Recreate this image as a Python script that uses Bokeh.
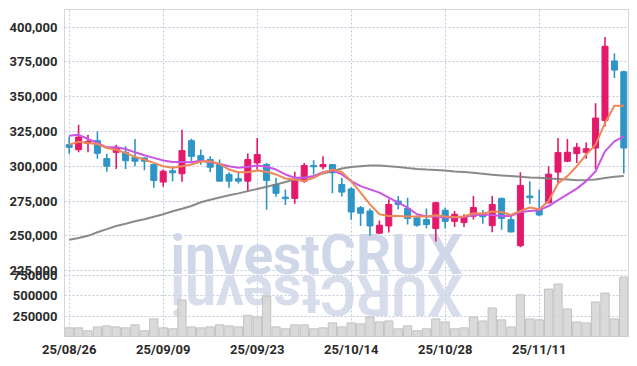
from math import pi
from bokeh.plotting import figure
from bokeh.models import (Range1d, FixedTicker, CustomJSTickFormatter, Label,
                          ColumnDataSource)
from bokeh.embed import file_html
from bokeh.resources import INLINE

# ---------------- data ----------------
xtick_pos = [0, 10, 20, 30, 40, 50]
xtick_labels = ["25/08/26", "25/09/09", "25/09/23", "25/10/14", "25/10/28", "25/11/11"]

open_ = [315500, 311900, 316400, 318400, 305500, 310000, 310000, 306400, 306000, 301200,
         288600, 296700, 294600, 318400, 307600, 304800, 301200, 294100, 291000, 289300,
         302400, 301200, 286900, 277800, 276900, 289300, 300500, 299600, 301200, 286900,
         283700, 270200, 267800, 251900, 257100, 275000, 269600, 262900, 261700, 255200,
         268400, 260400, 259500, 264100, 266000, 257300, 276900, 261700, 242900, 278600,
         269100, 273800, 295800, 303600, 309100, 310000, 313100, 332900, 375700, 367900]
close = [313600, 321000, 317900, 309300, 300000, 313600, 304000, 303600, 303600, 289800,
         296400, 295300, 311200, 307100, 303600, 299300, 289300, 289300, 289300, 304800,
         308400, 289800, 280500, 276700, 289800, 300500, 299600, 301200, 295300, 281400,
         267100, 266200, 257100, 257600, 272500, 272500, 262500, 257600, 258100, 273800,
         260400, 265500, 263600, 270300, 263700, 272500, 262500, 252800, 286200, 277400,
         265000, 294300, 309800, 310000, 313600, 312600, 334600, 386200, 369100, 313100]
high = [321400, 329800, 322600, 325000, 308900, 315500, 314300, 319600, 306300, 301500,
        297600, 300000, 326200, 319800, 312000, 307100, 304800, 295700, 295300, 309100,
        320300, 302400, 291700, 283300, 296000, 302400, 304300, 307100, 301300, 291700,
        284900, 271400, 269600, 261000, 276300, 278600, 277400, 264400, 269600, 274500,
        270200, 267900, 265500, 278600, 268500, 278600, 277400, 264700, 295700, 289300,
        283300, 300000, 320300, 319600, 316700, 317100, 345300, 392800, 381000, 368600]
low = [308900, 310000, 310000, 305300, 296000, 298100, 298100, 300000, 297100, 284600,
       285300, 289300, 288800, 303600, 301000, 295700, 289000, 284600, 287600, 282100,
       297600, 268800, 278100, 272100, 273100, 288100, 294100, 297600, 280500, 278300,
       261600, 257100, 250000, 251500, 252300, 269100, 258100, 256600, 255200, 245900,
       255200, 256400, 256400, 261700, 258600, 252600, 254300, 252300, 241800, 273100,
       264000, 273300, 287600, 302900, 302400, 305300, 298100, 328600, 363400, 294800]
volume = [106000, 106000, 70000, 118000, 130000, 118000, 106000, 143000, 70000, 216000,
          106000, 94000, 448000, 118000, 106000, 118000, 143000, 130000, 118000, 260000,
          240000, 496000, 118000, 94000, 143000, 143000, 94000, 106000, 167000, 118000,
          167000, 155000, 240000, 179000, 191000, 94000, 130000, 70000, 94000, 216000,
          179000, 94000, 106000, 240000, 191000, 350000, 204000, 118000, 512000, 216000,
          204000, 582000, 643000, 338000, 179000, 167000, 423000, 533000, 216000, 728000]
ma_short = [315500, 317600, 316700, 316000, 313100, 311900, 309600, 306700, 304800, 302400,
            300000, 298900, 300000, 301200, 303400, 303600, 301700, 297600, 295700, 295700,
            296900, 296000, 294100, 291200, 290500, 289300, 291700, 295300, 297600, 295900,
            289300, 281000, 272600, 265500, 264300, 264300, 263900, 263900, 263900, 264800,
            263900, 263600, 263900, 266200, 266100, 267400, 267100, 265000, 267900, 270300,
            269100, 275000, 287600, 292900, 300000, 308400, 315500, 331000, 343400, 343400]
ma_mid = [321900, 322600, 319600, 316700, 313600, 313600, 312400, 310000, 307900, 306000,
          304100, 303100, 303100, 302900, 303900, 303100, 301700, 300000, 298900, 299600,
          300500, 299600, 297600, 294100, 291700, 291700, 292900, 295700, 297100, 294100,
          289300, 285700, 283400, 281000, 277400, 273900, 270300, 265500, 263900, 263900,
          263100, 263100, 263600, 264800, 265300, 265000, 264300, 264300, 267100, 267900,
          268400, 271400, 275700, 279800, 283900, 289300, 296400, 310700, 317900, 321400]
ma_long = [247100, 248400, 250000, 252600, 254800, 257100, 258700, 260500, 261900, 263700,
           265500, 267600, 269400, 271400, 274100, 275900, 277600, 279100, 280500, 282100,
           283700, 285300, 286900, 288700, 290500, 291700, 292900, 294800, 296400, 298400,
           299400, 300000, 300500, 300500, 300000, 299400, 298700, 298100, 297600, 297300,
           296900, 296200, 295900, 295300, 294600, 293900, 293400, 292900, 292400, 291900,
           291700, 291200, 290900, 290500, 290000, 290100, 290500, 291600, 292400, 292900]

price_ticks = [225000, 250000, 275000, 300000, 325000, 350000, 375000, 400000]
vol_ticks = [250000, 500000, 750000]

# ---------------- styling constants ----------------
UP = "#e5196b"
DOWN = "#2e95c6"
FONT = "Roboto"
P0, P1 = 177640, 412640      # price axis range (frame bottom/top)
VMAX = 4012000               # volume range top

n = len(close)
idx = list(range(n))
colors = [UP if c >= o else DOWN for o, c in zip(open_, close)]
src = ColumnDataSource(dict(
    x=idx, o=open_, c=close, h=high, l=low, v=volume, col=colors,
    top=[max(a, b) for a, b in zip(open_, close)],
    bot=[min(a, b) for a, b in zip(open_, close)],
    ma5=ma_short, ma10=ma_mid, mal=ma_long,
))

p = figure(width=629, height=359, x_range=Range1d(-0.5, n - 0.5),
           y_range=Range1d(P0, P1), output_backend="svg", toolbar_location=None,
           min_border_left=64, min_border_right=1, min_border_top=9,
           min_border_bottom=21, background_fill_color="white",
           border_fill_color="white")
p.extra_y_ranges = {"vol": Range1d(0, VMAX)}

# watermark (text and its mirrored reflection)
p.add_layout(Label(x=26.3, y=236200, text="investCRUX", text_font=FONT,
                   text_font_size="55px", text_font_style="bold",
                   text_color="#d0d7e8", text_align="center",
                   text_baseline="middle", level="underlay"))
p.add_layout(Label(x=26.3, y=207600, text="XURCtsevni", angle=pi, text_font=FONT,
                   text_font_size="55px", text_font_style="bold",
                   text_color="#d0d7e8", text_alpha=0.85, text_align="center",
                   text_baseline="middle", level="underlay"))

# volume
p.vbar(x="x", width=0.88, top="v", bottom=0, source=src, y_range_name="vol",
       fill_color="#d4d4d4", fill_alpha=0.85, line_color="#c2c2c2", line_width=1)

# candles
p.segment(x0="x", y0="l", x1="x", y1="h", source=src, line_color="col", line_width=1.6)
p.vbar(x="x", width=0.64, top="top", bottom="bot", source=src,
       fill_color="col", line_color="col", line_width=1)

# moving averages
p.line("x", "mal", source=src, line_color="#7d7d7d", line_width=2, line_alpha=0.9)
p.line("x", "ma10", source=src, line_color="#c955e6", line_width=2)
p.line("x", "ma5", source=src, line_color="#ef8856", line_width=2)

# axes
yax = p.yaxis[0]
yax.ticker = FixedTicker(ticks=price_ticks + [P0 + v * (P1 - P0) / VMAX for v in vol_ticks])
yax.formatter = CustomJSTickFormatter(args=dict(p0=P0, p1=P1, vmax=VMAX), code="""
if (tick > 223000) {
  return Math.round(tick).toString().replace(/\\B(?=(\\d{3})+(?!\\d))/g, ",");
}
return String(Math.round((tick - p0) * vmax / (p1 - p0) / 1000) * 1000);
""")
xax = p.xaxis[0]
xax.ticker = FixedTicker(ticks=xtick_pos)
xax.major_label_overrides = {pos: lab for pos, lab in zip(xtick_pos, xtick_labels)}

for ax in (xax, yax):
    ax.axis_line_color = None
    ax.major_tick_line_color = None
    ax.minor_tick_line_color = None
    ax.major_tick_out = 0
    ax.major_tick_in = 0
    ax.minor_tick_out = 0
    ax.major_label_text_font = FONT
    ax.major_label_text_font_size = "13px"
    ax.major_label_text_font_style = "bold"
    ax.major_label_text_color = "#2a2a2a"
yax.major_label_standoff = 7
xax.major_label_standoff = 5

for g in (p.xgrid[0], p.ygrid[0]):
    g.grid_line_color = "#c4c8da"
    g.grid_line_dash = "2 2"
    g.grid_line_width = 1
p.outline_line_color = "#d6d6d6"

open("out.html", "w").write(file_html(p, INLINE))
